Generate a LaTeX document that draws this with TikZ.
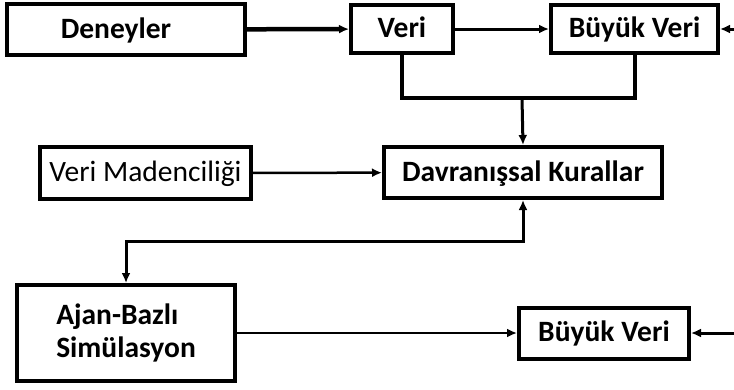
\documentclass[tikz,border=0pt]{standalone}
\usepackage{fontspec}
\setmainfont{Carlito}
\usetikzlibrary{arrows.meta}
\begin{document}
\begin{tikzpicture}[x=1pt,y=-1pt,
  kutu/.style={draw,line width=4pt,inner sep=0pt,text height=19pt,text depth=2pt,font=\bfseries\fontsize{29.5}{33}\selectfont},
  ok/.style={-{Latex[length=10pt,width=9pt]},line width=3pt}]
\useasboundingbox (0,0) rectangle (734,389);
\node[kutu,minimum width=238pt,minimum height=51pt] (d) at (126,29.5) {\hspace*{-20pt}Deneyler};
\node[kutu,minimum width=102pt,minimum height=48pt] (v) at (402,29) {Veri};
\node[kutu,minimum width=167pt,minimum height=48pt] (b1) at (634.5,29) {Büyük Veri};
\node[kutu,minimum width=211pt,minimum height=52pt,font=\fontsize{29.5}{33}\selectfont] (m) at (145.5,173) {Veri Madenciliği};
\node[kutu,minimum width=278pt,minimum height=51pt] (k) at (523,172.5) {Davranışsal Kurallar};
\node[kutu,minimum width=218pt,minimum height=96pt,align=left,text height=,text depth=] (a) at (126,333) {Ajan-Bazlı\\Simülasyon};
\node[kutu,minimum width=170pt,minimum height=51pt] (b2) at (604,333) {Büyük Veri};
\coordinate (r1) at (734,29);
\coordinate (r2) at (734,333);
\coordinate (j) at (522,98);
\coordinate (g) at (126,241);
\draw[ok,line width=4.5pt] (d) -- (v);
\draw[ok] (v) -- (b1);
\draw[ok] (r1) -- (b1);
\draw[line width=4pt] (v.south) |- (b1.south |- j) -- (b1.south);
\draw[ok] (j) -- (k.north);
\draw[ok,line width=2.5pt] (m) -- (k);
\draw[ok,{Latex[length=10pt,width=9pt]}-{Latex[length=10pt,width=9pt]}] (k.south) |- (g) -- (a.north);
\draw[ok,line width=2.5pt] (a) -- (b2);
\draw[ok] (r2) -- (b2);
\end{tikzpicture}
\end{document}
